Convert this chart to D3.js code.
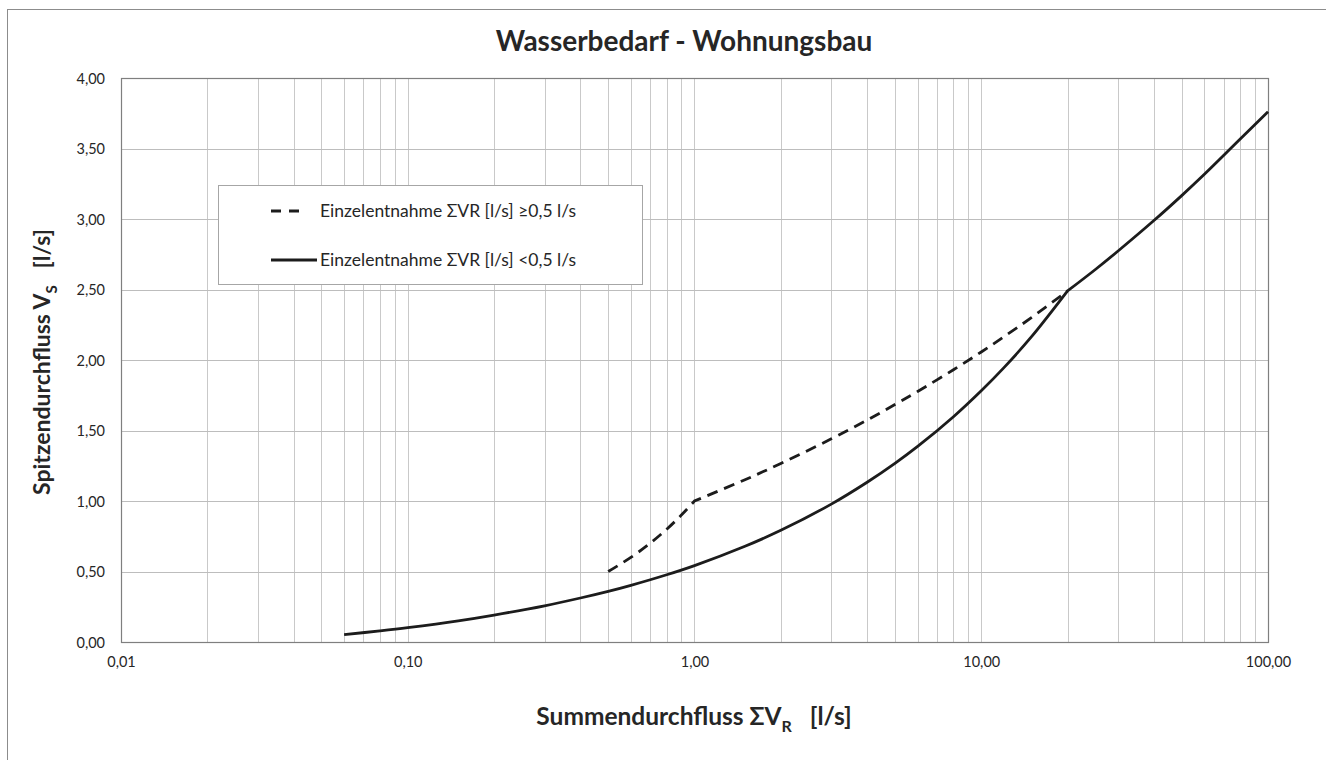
<!DOCTYPE html>
<html>
<head>
<meta charset="utf-8">
<script src="https://cdn.jsdelivr.net/npm/d3@7"></script>
<style>
  html, body { margin: 0; padding: 0; background: #fff; }
  svg { display: block; }
  text { font-family: Lato, "Open Sans", sans-serif; fill: #262626; }
</style>
</head>
<body>
<svg id="chart" width="1326" height="760"></svg>
<script>
// Tick values and their labels (German decimal comma)
const xTickValues = [0.01, 0.1, 1, 10, 100];
const xTickLabels = ["0,01", "0,10", "1,00", "10,00", "100,00"];
const yTickValues = [0, 0.5, 1, 1.5, 2, 2.5, 3, 3.5, 4];
const yTickLabels = ["0,00", "0,50", "1,00", "1,50", "2,00", "2,50", "3,00", "3,50", "4,00"];

// Summendurchfluss ΣV_R [l/s] and Spitzendurchfluss V_S [l/s]
// Einzelentnahme < 0,5 l/s (solid)
const solidFlowSum = [0.06, 0.08, 0.1, 0.15, 0.2, 0.3, 0.4, 0.5, 0.6, 0.8, 1, 1.5, 2, 3, 4, 5, 6, 8, 10, 12, 15, 20, 25, 30, 40, 50, 60, 80, 100];
const solidPeak    = [0.052, 0.079, 0.102, 0.150, 0.191, 0.257, 0.312, 0.359, 0.402, 0.477, 0.542, 0.679, 0.792, 0.978, 1.133, 1.267, 1.387, 1.598, 1.782, 1.946, 2.167, 2.490, 2.642, 2.773, 2.989, 3.166, 3.317, 3.567, 3.760];
// Einzelentnahme ≥ 0,5 l/s (dashed)
const dashedFlowSum = [0.5, 0.6, 0.7, 0.8, 0.9, 1, 1.5, 2, 3, 4, 5, 6, 8, 10, 12, 15, 20];
const dashedPeak    = [0.500, 0.600, 0.700, 0.800, 0.900, 1.000, 1.151, 1.266, 1.441, 1.574, 1.684, 1.777, 1.931, 2.057, 2.165, 2.302, 2.490];

// Flow sums where a curve changes its law (drawn as a corner)
const solidBreaks = [20];
const dashedBreaks = [1];

const legendLabels = ["Einzelentnahme ΣVR [l/s] ≥0,5 l/s", "Einzelentnahme ΣVR [l/s] <0,5 l/s"];

const svg = d3.select("#chart");
const plot = { left: 121, right: 1268, top: 78, bottom: 642 };

const x = d3.scaleLog().domain([0.01, 100]).range([plot.left, plot.right]);
const y = d3.scaleLinear().domain([0, 4]).range([plot.bottom, plot.top]);
const px = v => Math.round(v) + 0.5;

// Outer chart frame
svg.append("rect")
  .attr("x", 7.5).attr("y", 9.5)
  .attr("width", 1330).attr("height", 760)
  .attr("fill", "#fff").attr("stroke", "#8c8c8c").attr("stroke-width", 1);

// Title
svg.append("text")
  .attr("x", 684).attr("y", 51)
  .attr("text-anchor", "middle")
  .style("font-size", "28px").style("font-weight", "bold")
  .text("Wasserbedarf - Wohnungsbau");

// Vertical log grid (1..9 per decade)
const gridX = x.ticks().filter(v => v > 0.01 && v < 100);
svg.append("g").selectAll("line").data(gridX).join("line")
  .attr("x1", d => px(x(d))).attr("x2", d => px(x(d)))
  .attr("y1", plot.top).attr("y2", plot.bottom)
  .attr("stroke", "#c9c9c9").attr("stroke-width", 1);

// Horizontal grid
svg.append("g").selectAll("line").data(yTickValues.filter(v => v > 0 && v < 4)).join("line")
  .attr("x1", plot.left).attr("x2", plot.right)
  .attr("y1", d => px(y(d))).attr("y2", d => px(y(d)))
  .attr("stroke", "#bdbdbd").attr("stroke-width", 1);

// Plot frame
svg.append("rect")
  .attr("x", px(plot.left)).attr("y", px(plot.top))
  .attr("width", Math.round(plot.right - plot.left)).attr("height", Math.round(plot.bottom - plot.top))
  .attr("fill", "none").attr("stroke", "#7f7f7f").attr("stroke-width", 1.2);

// Axis labels via d3 axes (lines hidden, labels only)
const xAxis = d3.axisBottom(x).tickValues(xTickValues)
  .tickFormat((d, i) => xTickLabels[i]).tickSize(0).tickPadding(0);
const gx = svg.append("g").attr("transform", `translate(0, ${plot.bottom + 25})`).call(xAxis);
gx.select(".domain").remove();
gx.selectAll("text").attr("dy", 0).style("font-size", "14.5px").style("font-family", "Lato, 'Open Sans', sans-serif").attr("fill", "#262626");

const yAxis = d3.axisLeft(y).tickValues(yTickValues)
  .tickFormat((d, i) => yTickLabels[i]).tickSize(0).tickPadding(0);
const gy = svg.append("g").attr("transform", `translate(${plot.left - 16}, 0)`).call(yAxis);
gy.select(".domain").remove();
gy.selectAll("text").attr("dy", "0.35em").style("font-size", "14.5px").style("font-family", "Lato, 'Open Sans', sans-serif").attr("fill", "#262626");

// Series: smooth pieces joined at the break points into one continuous path
const line = d3.line().x(d => x(d[0])).y(d => y(d[1])).curve(d3.curveCatmullRom.alpha(0.5));
function piecewisePath(xs, ys, breaks) {
  const pts = xs.map((v, i) => [v, ys[i]]);
  const pieces = [];
  let cur = [];
  pts.forEach(p => {
    cur.push(p);
    if (breaks.includes(p[0])) { pieces.push(cur); cur = [p]; }
  });
  if (cur.length > 1) pieces.push(cur);
  return pieces.map((seg, i) => {
    const d = line(seg);
    return i === 0 ? d : "L" + d.slice(1);
  }).join("");
}

svg.append("path").attr("d", piecewisePath(dashedFlowSum, dashedPeak, dashedBreaks))
  .attr("fill", "none").attr("stroke", "#1c1c1c").attr("stroke-width", 2.8)
  .attr("stroke-dasharray", "11,7");
svg.append("path").attr("d", piecewisePath(solidFlowSum, solidPeak, solidBreaks))
  .attr("fill", "none").attr("stroke", "#1c1c1c").attr("stroke-width", 2.8)
  .attr("stroke-linejoin", "round");

// Legend
const lg = svg.append("g");
lg.append("rect")
  .attr("x", 218.5).attr("y", 185.5).attr("width", 424).attr("height", 99)
  .attr("fill", "#fff").attr("stroke", "#a6a6a6").attr("stroke-width", 1);
const legendRows = [{ y: 211, dash: "10,8", x2: 306 }, { y: 260, dash: null, x2: 317 }];
legendRows.forEach((r, i) => {
  const l = lg.append("line")
    .attr("x1", 271).attr("x2", r.x2).attr("y1", r.y).attr("y2", r.y)
    .attr("stroke", "#1c1c1c").attr("stroke-width", 2.8);
  if (r.dash) l.attr("stroke-dasharray", r.dash);
  lg.append("text").attr("x", 320).attr("y", r.y).attr("dy", "0.35em")
    .style("font-size", "17.5px").text(legendLabels[i]);
});

// Axis titles
const xt = svg.append("text")
  .attr("x", 694).attr("y", 725)
  .attr("text-anchor", "middle")
  .style("font-size", "24.5px").style("font-weight", "bold");
xt.append("tspan").text("Summendurchfluss ΣV");
xt.append("tspan").attr("dy", 7).style("font-size", "16px").text("R");
xt.append("tspan").attr("dy", -7).text("\u00a0\u00a0\u00a0[l/s]");

const yt = svg.append("text")
  .attr("transform", `translate(50, 362) rotate(-90)`)
  .attr("text-anchor", "middle")
  .style("font-size", "23px").style("font-weight", "bold");
yt.append("tspan").text("Spitzendurchfluss V");
yt.append("tspan").attr("dy", 7).style("font-size", "15px").text("S");
yt.append("tspan").attr("dy", -7).text("\u00a0\u00a0\u00a0[l/s]");
</script>
</body>
</html>
